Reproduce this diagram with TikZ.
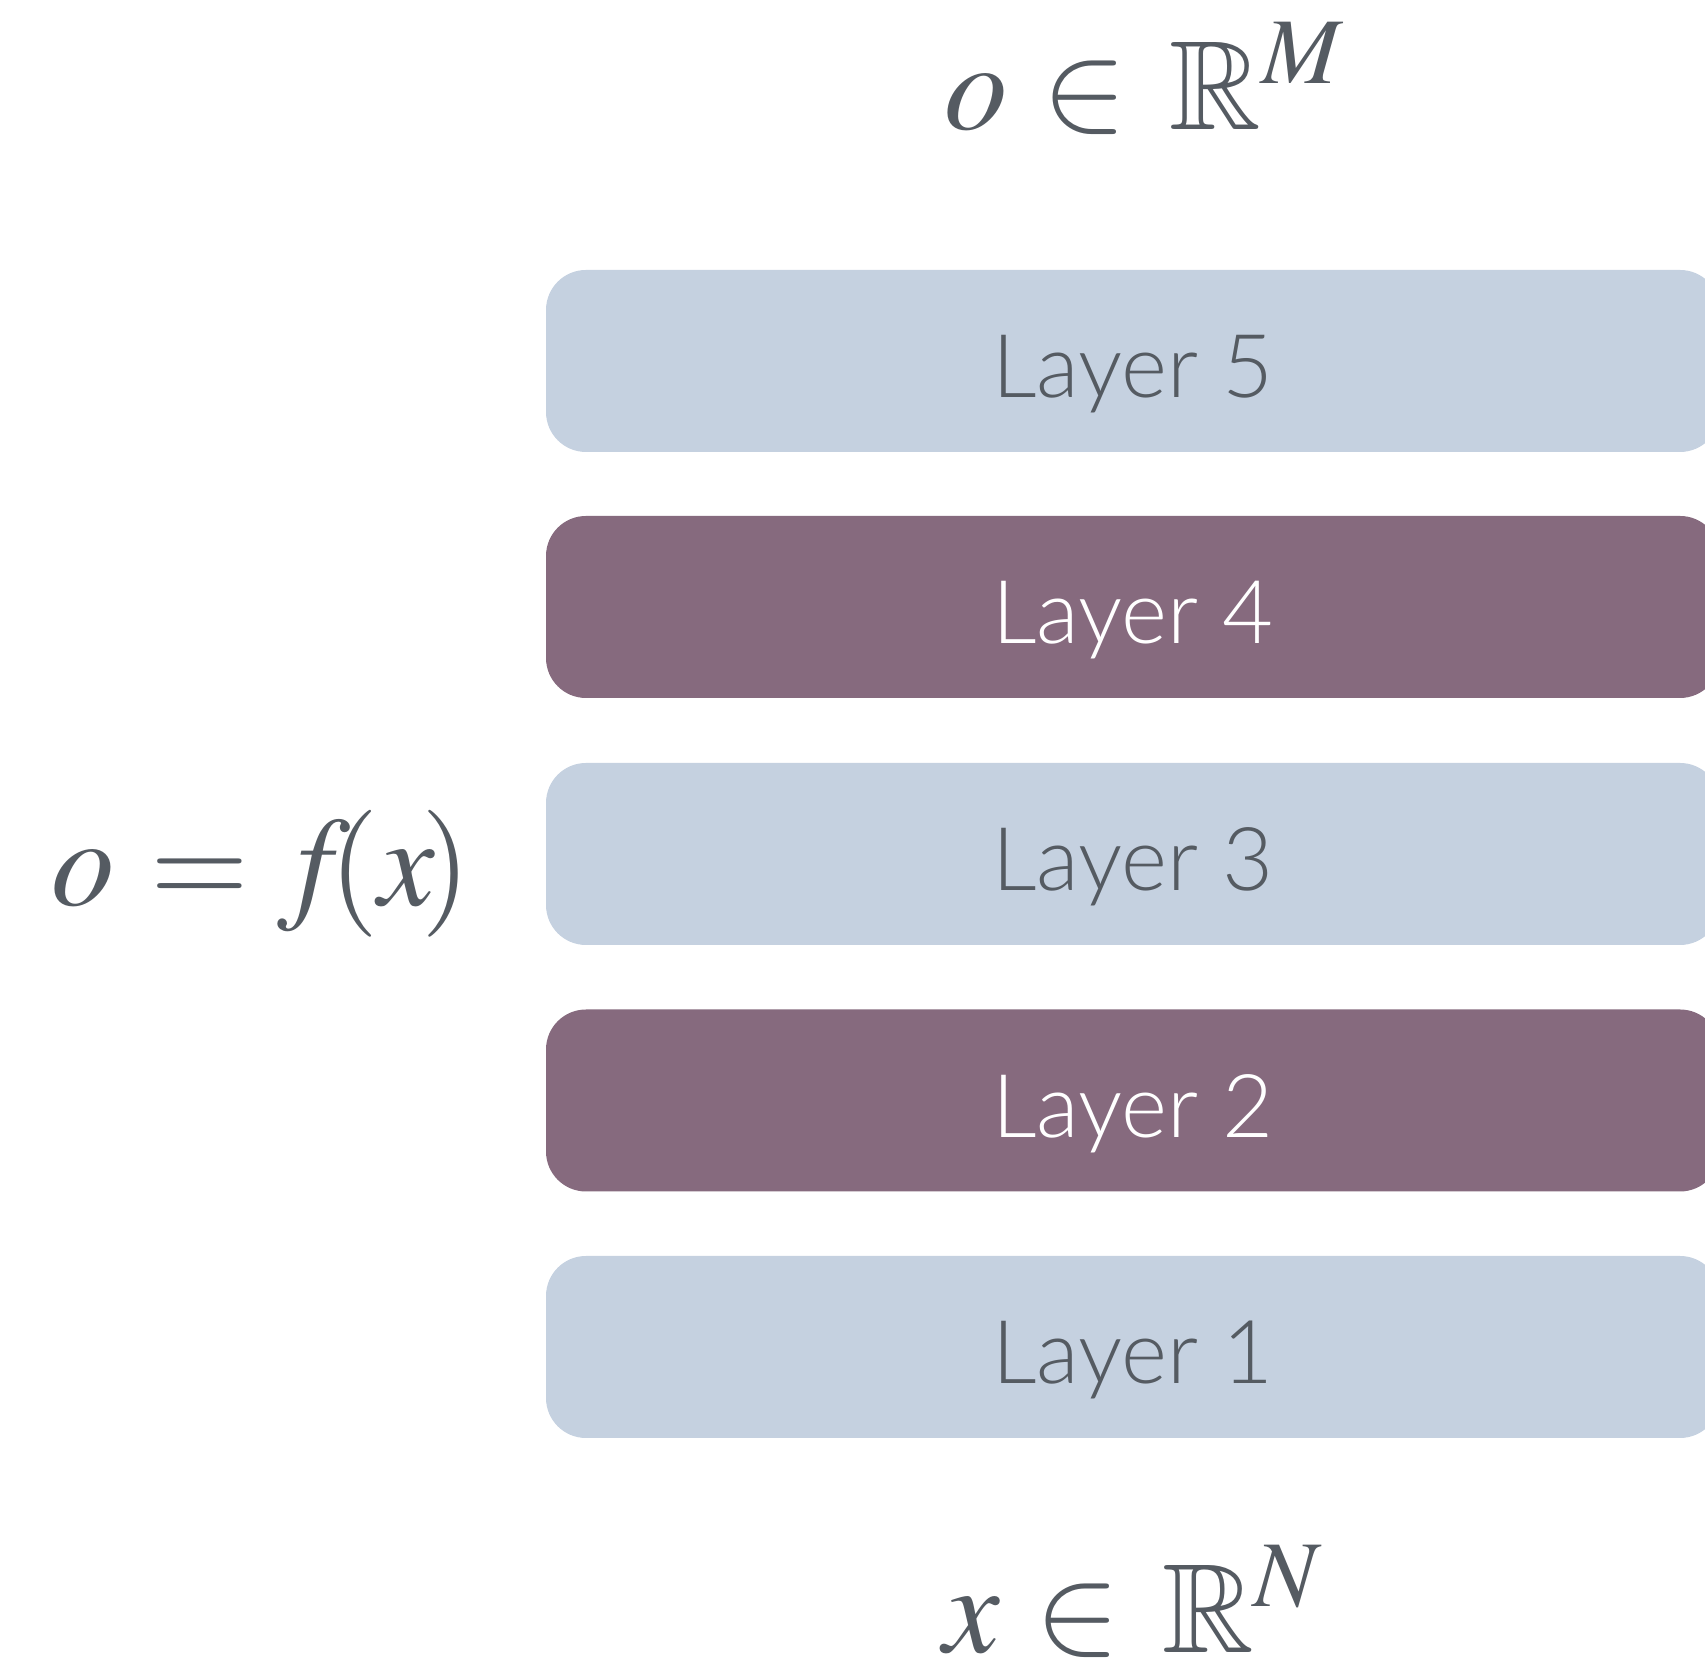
\documentclass[tikz,border=0pt]{standalone}
\usepackage{amsmath}
\usepackage{amssymb}
\usepackage{mathptmx}
\usepackage{fontspec}
\newfontfamily\layerfont{Lato Light}
\usepackage{tikz}
\definecolor{textgray}{HTML}{555B62}
\definecolor{layerblue}{HTML}{C5D1E0}
\definecolor{layerpurple}{HTML}{866A7E}

\begin{document}
\begin{tikzpicture}[x=1pt, y=1pt,
    layer/.style={rectangle, rounded corners=40pt, minimum width=1174pt, minimum height=182pt,
        inner sep=0pt, text height=74pt, text depth=0pt, font=\fontsize{88}{90}\selectfont\layerfont},
    lightlayer/.style={layer, fill=layerblue, text=textgray},
    darklayer/.style={layer, fill=layerpurple, text=white},
    eqlabel/.style={anchor=base, inner sep=0pt, text=textgray, font=\fontsize{127}{130}\selectfont}]
    \useasboundingbox (0, 0) rectangle (1705, 1664);
    \clip (0, 0) rectangle (1705, 1664);
    % stack of layers, bottom to top
    \node[lightlayer] (layer1) at (1133, 317) {Layer 1};
    \node[darklayer] (layer2) at (1133, 563.5) {Layer 2};
    \node[lightlayer] (layer3) at (1133, 810) {Layer 3};
    \node[darklayer] (layer4) at (1133, 1057) {Layer 4};
    \node[lightlayer] (layer5) at (1133, 1303) {Layer 5};
    % input, output and the map
    \node[eqlabel] (input) at (1133, 11) {$x \mskip1mu\in\mskip2mu \mathbb{R}^N$};
    \node[eqlabel] (output) at (1144, 1534) {$o \mskip1mu\in\mskip2mu \mathbb{R}^M$};
    \node[eqlabel] (map) at (261, 758) {$o \mskip1mu= f\mskip-3mu(x\mskip-2mu)$};
\end{tikzpicture}
\end{document}
